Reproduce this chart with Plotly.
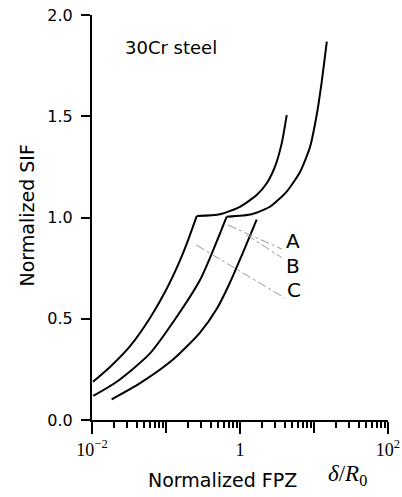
import math
import plotly.graph_objects as go

# Curve data (x = normalized FPZ delta/R0, y = normalized SIF)
a_x = [0.01032, 0.0175, 0.0327, 0.0608, 0.0969, 0.145, 0.192, 0.260, 0.537, 1.0, 1.68, 2.30, 2.97, 3.66, 4.28]
a_y = [0.189, 0.262, 0.365, 0.504, 0.632, 0.765, 0.874, 1.007, 1.016, 1.053, 1.111, 1.169, 1.251, 1.366, 1.506]
a_kink = 7

b_x = [0.0104, 0.0216, 0.0608, 0.140, 0.288, 0.436, 0.661, 1.44, 2.54, 4.28, 6.47, 8.83, 10.87, 12.7, 14.9]
b_y = [0.119, 0.189, 0.329, 0.510, 0.691, 0.840, 1.004, 1.016, 1.053, 1.128, 1.225, 1.348, 1.506, 1.669, 1.868]
b_kink = 6

c_x = [0.01845, 0.0446, 0.1256, 0.288, 0.484, 0.733, 1.054, 1.68]
c_y = [0.102, 0.182, 0.300, 0.432, 0.548, 0.679, 0.812, 0.990]

# Leader lines
lead_a_x = [0.687, 3.67]
lead_a_y = [0.963, 0.844]
lead_b_x = [1.233, 3.67]
lead_b_y = [0.914, 0.802]
lead_c_x = [0.2566, 4.04]
lead_c_y = [0.864, 0.602]

labels = ["A", "B", "C"]
label_x = [5.23, 5.18, 5.42]
label_y = [0.885, 0.761, 0.644]

x_tickvals = [0.01, 1, 100]
x_ticktext = ["10<sup>\u22122</sup>", "1", "10<sup>2</sup>"]
x_unlabeled_ticks = [0.1, 10]
y_tickvals = [0.0, 0.5, 1.0, 1.5, 2.0]
y_ticktext = ["0.0", "0.5", "1.0", "1.5", "2.0"]

fig = go.Figure()

line_style = dict(color="black", width=2)


def add_curve(xs, ys, kink=None):
    if kink is None:
        fig.add_trace(go.Scatter(x=xs, y=ys, mode="lines", line=dict(**line_style, shape="spline", smoothing=0.7),
                                 showlegend=False, hoverinfo="skip"))
    else:
        fig.add_trace(go.Scatter(x=xs[:kink + 1], y=ys[:kink + 1], mode="lines",
                                 line=dict(**line_style, shape="spline", smoothing=0.7),
                                 showlegend=False, hoverinfo="skip"))
        fig.add_trace(go.Scatter(x=xs[kink:], y=ys[kink:], mode="lines",
                                 line=dict(**line_style, shape="spline", smoothing=0.6),
                                 showlegend=False, hoverinfo="skip"))


add_curve(a_x, a_y, a_kink)
add_curve(b_x, b_y, b_kink)
add_curve(c_x, c_y)

leaders = [(lead_a_x, lead_a_y), (lead_b_x, lead_b_y), (lead_c_x, lead_c_y)]
for i, (lx, ly) in enumerate(leaders):
    fig.add_trace(go.Scatter(x=lx, y=ly, mode="lines",
                             line=dict(color="#9a9a9a", width=1, dash="dashdot"),
                             showlegend=False, hoverinfo="skip",
                             xaxis="x2" if i == 0 else "x"))

minor_vals = [m * 10 ** d for d in range(-2, 2) for m in range(2, 10)]

fig.update_layout(
    xaxis=dict(
        type="log", range=[-2, 2],
        tickvals=x_tickvals, ticktext=x_ticktext,
        ticks="outside", ticklen=12, tickwidth=2, tickcolor="black",
        showline=True, linewidth=2, linecolor="black",
        showgrid=False, zeroline=False, automargin=False,
        tickfont=dict(family="Liberation Serif", size=18, color="black"),
        minor=dict(tickvals=minor_vals, ticks="outside", ticklen=6, tickwidth=1.5, tickcolor="black",
                   showgrid=False),
    ),
    xaxis2=dict(
        type="log", range=[-2, 2], overlaying="x", anchor="y", side="bottom",
        tickvals=x_unlabeled_ticks, showticklabels=False,
        ticks="outside", ticklen=12, tickwidth=2, tickcolor="black",
        showline=False, showgrid=False, zeroline=False, automargin=False,
    ),
    yaxis=dict(
        range=[0, 2],
        tickvals=y_tickvals, ticktext=y_ticktext,
        ticks="outside", ticklen=9, tickwidth=2, tickcolor="black",
        ticklabelstandoff=5,
        showline=True, linewidth=2, linecolor="black",
        showgrid=False, zeroline=False, automargin=False,
        tickfont=dict(family="DejaVu Sans", size=16, color="black"),
    ),
)

annotations = []
for t, x, y in zip(labels, label_x, label_y):
    annotations.append(dict(x=math.log10(x), y=y, xref="x", yref="y", text=t, showarrow=False,
                            font=dict(family="DejaVu Sans", size=20, color="black"),
                            xanchor="center", yanchor="middle"))

annotations += [
    dict(x=0.1047, y=0.920, xref="paper", yref="paper", text="30Cr steel", showarrow=False,
         font=dict(family="DejaVu Sans", size=18, color="black"), xanchor="left", yanchor="middle"),
    dict(x=0.441, y=-0.147, xref="paper", yref="paper", text="Normalized FPZ", showarrow=False,
         font=dict(family="DejaVu Sans", size=19, color="black"), xanchor="center", yanchor="middle"),
    dict(x=0.863, y=-0.1346, xref="paper", yref="paper", text="<i>\u03b4</i>/<i>R</i><sub>0</sub>",
         showarrow=False, font=dict(family="Liberation Serif", size=23, color="black"),
         xanchor="center", yanchor="middle"),
    dict(x=-0.2196, y=0.505, xref="paper", yref="paper", text="Normalized SIF", showarrow=False,
         textangle=-90, font=dict(family="DejaVu Sans", size=19, color="black"),
         xanchor="center", yanchor="middle"),
]

fig.update_layout(
    width=402, height=497,
    margin=dict(l=92, r=14, t=15, b=77),
    paper_bgcolor="white", plot_bgcolor="white",
    annotations=annotations,
    showlegend=False,
)

fig.write_html("out.html", config={"displayModeBar": False},
               post_script="document.body.style.margin='0';")
